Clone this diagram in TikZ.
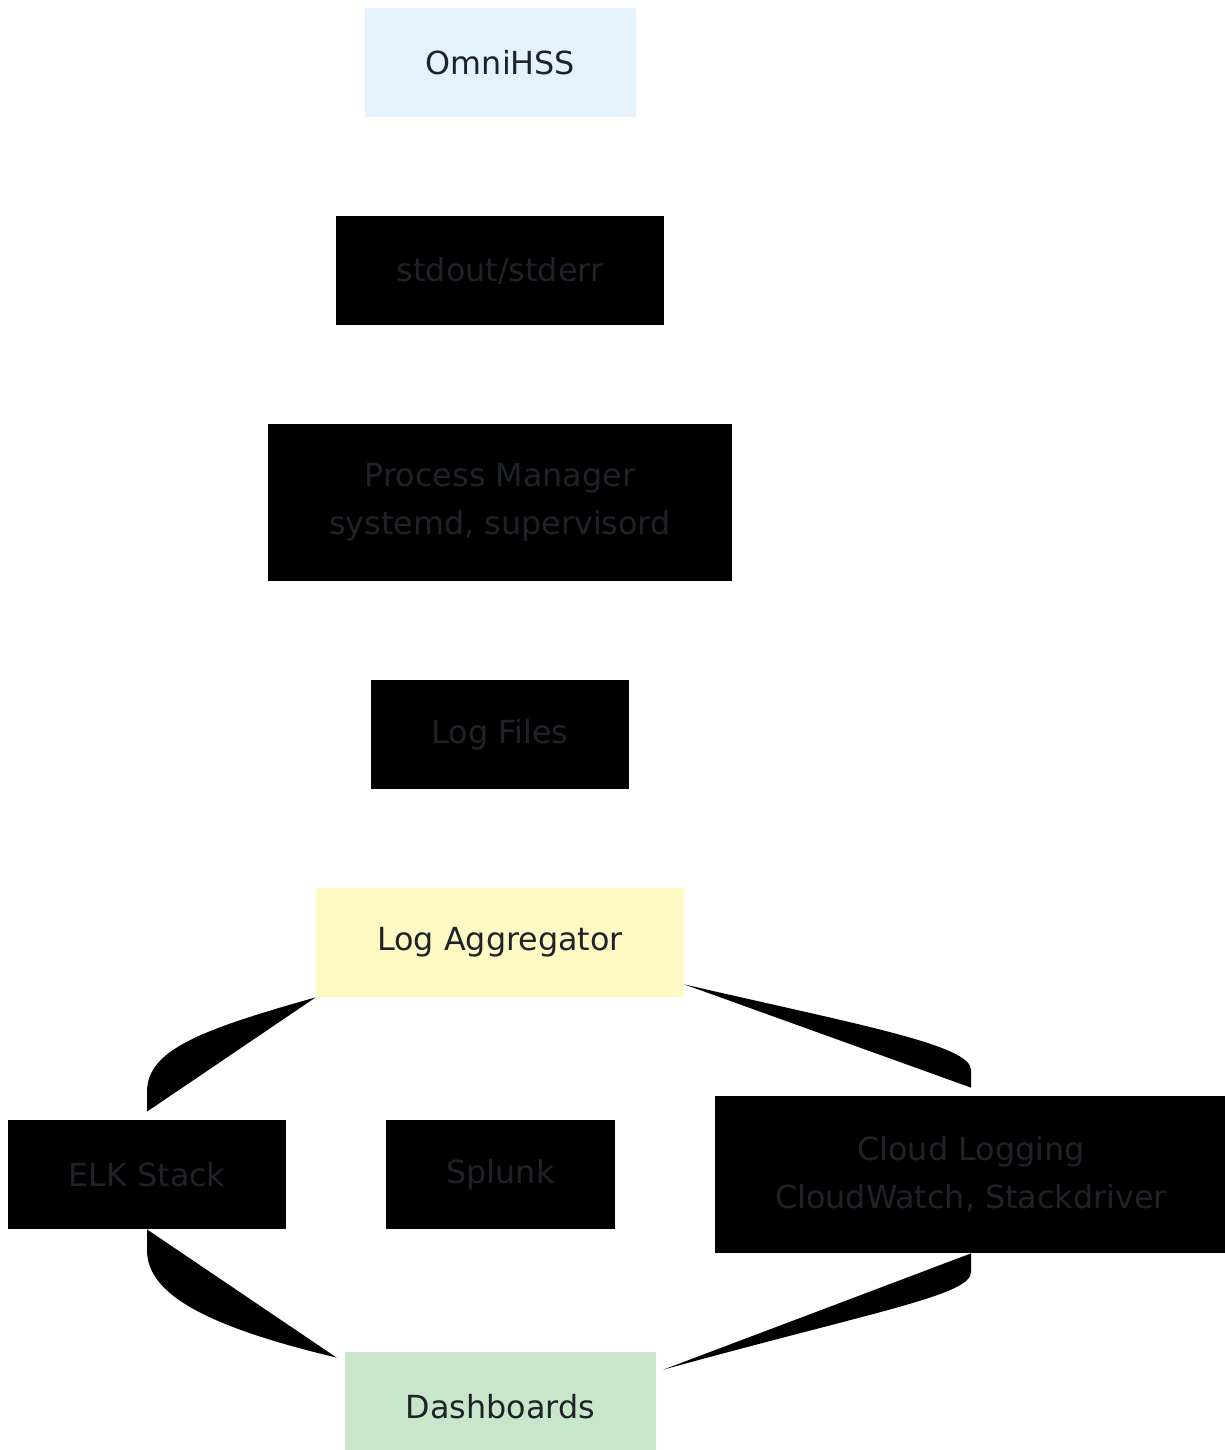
\documentclass[tikz,border=0pt]{standalone}
\usepackage{fontspec}
\setmainfont{DejaVu Sans}
\usetikzlibrary{calc}
\definecolor{txt}{HTML}{1F2329}
\definecolor{blueish}{HTML}{E3F2FD}
\definecolor{yellowish}{HTML}{FFF9C4}
\definecolor{greenish}{HTML}{C8E6C9}
\begin{document}
\begin{tikzpicture}[x=0.5pt,y=-0.5pt,
  box/.style={rectangle,inner sep=0pt,align=center,text=txt,font=\fontsize{15.9}{24}\selectfont},
  blk/.style={box,fill=black},
  edgefill/.style={fill=black,draw=none}]
\useasboundingbox (0,0) rectangle (1225,1450);
\begin{scope}
\clip (0,0) rectangle (1225,1450);
\node[box,fill=blueish,minimum width=135.5pt,minimum height=54.5pt] (omni) at (500.5,62.5) {OmniHSS};
\node[blk,minimum width=164pt,minimum height=54.5pt] (std) at (500,270.5) {stdout/stderr};
\node[blk,minimum width=232pt,minimum height=78.5pt] (pm) at (500,502.5) {Process Manager\\systemd, supervisord};
\node[blk,minimum width=129pt,minimum height=54.5pt] (lf) at (500,734.5) {Log Files};
\node[box,fill=yellowish,minimum width=184pt,minimum height=54.5pt] (agg) at (500,942.5) {Log Aggregator};
\node[blk,minimum width=139pt,minimum height=54.5pt] (elk) at (147,1174.5) {ELK Stack};
\node[blk,minimum width=114.5pt,minimum height=54.5pt] (spl) at (500.5,1174.5) {Splunk};
\node[blk,minimum width=256pt,minimum height=78.5pt] (cloud) at (971,1174.5) {Cloud Logging\\CloudWatch, Stackdriver};
\node[box,fill=greenish,minimum width=155.5pt,minimum height=54.5pt] (dash) at (500.5,1406.5) {Dashboards};
% filled connectors
\coordinate (a1) at ($(elk.north)+(0,-8)$);
\fill[edgefill] (agg.south west) .. controls (200,1030) and (147,1050) .. (147,1092) -- (a1) -- cycle;
\coordinate (a2) at ($(dash.north west)+(-8,6)$);
\fill[edgefill] (elk.south) -- (147,1250) .. controls (147,1292) and (200,1325) .. (a2) -- cycle;
\coordinate (a3) at ($(cloud.north)+(0,-8)$);
\coordinate (s3) at ($(agg.south east)+(0,-13)$);
\fill[edgefill] (s3) .. controls (860,1025) and (971,1045) .. (971,1070) -- (a3) -- cycle;
\coordinate (a4) at ($(dash.north east)+(7,18)$);
\fill[edgefill] (cloud.south) -- (971,1272) .. controls (971,1295) and (880,1310) .. (a4) -- cycle;
\end{scope}
\end{tikzpicture}
\end{document}
